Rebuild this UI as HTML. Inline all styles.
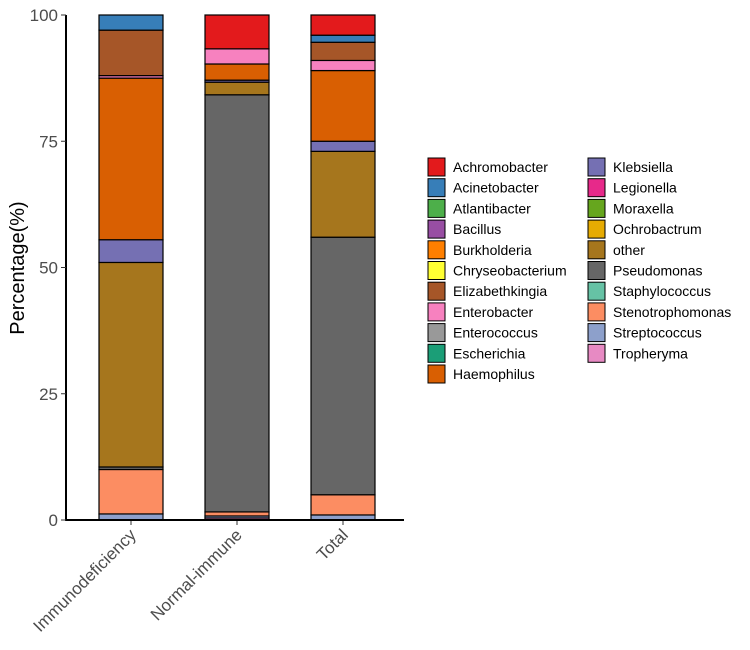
<!DOCTYPE html>
<html><head><meta charset="utf-8"><style>
body{margin:0;background:#fff;font-family:"Liberation Sans",sans-serif}
</style></head><body>
<svg id="chart" width="750" height="645" xmlns="http://www.w3.org/2000/svg"></svg>
<script>
const genera=["Achromobacter","Acinetobacter","Atlantibacter","Bacillus","Burkholderia","Chryseobacterium","Elizabethkingia","Enterobacter","Enterococcus","Escherichia","Haemophilus","Klebsiella","Legionella","Moraxella","Ochrobactrum","other","Pseudomonas","Staphylococcus","Stenotrophomonas","Streptococcus","Tropheryma"];
const colors=["#e31a1c","#377eb8","#4daf4a","#984ea3","#ff7f00","#ffff33","#a65628","#f781bf","#999999","#1b9e77","#d95f02","#7570b3","#e7298a","#66a61e","#e6ab02","#a6761d","#666666","#66c2a5","#fc8d62","#8da0cb","#e78ac3"];
const categories=["Immunodeficiency","Normal-immune","Total"];
const valImmuno=[0,3,0,0,0,0,9,0.5,0,0,32,4.5,0,0,0,40.5,0.5,0,8.8,1.2,0];
const valNormal=[6.7,0,0,0,0,0,0,3,0,0,3.2,0.4,0,0,0,2.5,82.6,0,0.8,0.4,0.4];
const valTotal=[4,1.4,0,0,0,0,3.6,2,0,0,14,2,0,0,0,17,51,0,4,1,0];
const series=[valImmuno,valNormal,valTotal];
const yTicks=[0,25,50,75,100];
const NS="http://www.w3.org/2000/svg";
const svg=document.getElementById("chart");
function el(t,a,p){const e=document.createElementNS(NS,t);for(const k in a)e.setAttribute(k,a[k]);(p||svg).appendChild(e);return e;}
const y0=520,y1=15;
function y(v){return y0-(v/100)*(y0-y1);}
function xc(i){return 131+i*106;}
const bw=64;
categories.forEach((c,i)=>{
  const g=el("g",{});
  
  
  let cum=0;
  for(let k=genera.length-1;k>=0;k--){
    const v=series[i][k]; if(v<=0)continue;
    const r=el("rect",{x:xc(i)-bw/2,y:y(cum+v),width:bw,height:y(cum)-y(cum+v),fill:colors[k],stroke:"#000","stroke-width":1.2},g);
    
    
    cum+=v;
  }
  const t=el("text",{x:0,y:0,"font-size":17,fill:"#4d4d4d","text-anchor":"end",transform:`translate(${xc(i)+6},${536}) rotate(-45)`});
  t.textContent=c;
  
  
  el("line",{x1:xc(i),x2:xc(i),y1:520,y2:525,stroke:"#333","stroke-width":1});
});
el("line",{x1:66,x2:66,y1:15,y2:521,stroke:"#000","stroke-width":2});
el("line",{x1:65,x2:404,y1:520,y2:520,stroke:"#000","stroke-width":2});
yTicks.forEach(v=>{
  el("line",{x1:61,x2:66,y1:y(v),y2:y(v),stroke:"#333"});
  const t=el("text",{x:58,y:y(v)+6,"font-size":17,fill:"#4d4d4d","text-anchor":"end"});
  t.textContent=v;
  
  
});
const yt=el("text",{x:0,y:0,"font-size":20,fill:"#000","text-anchor":"middle",transform:"translate(24,268) rotate(-90)"});
yt.textContent="Percentage(%)";


genera.forEach((g,k)=>{
  const col=k<11?0:1, row=k<11?k:k-11;
  const lx=col?588:428, ly=158+row*20.7;
  const le=el("g",{});
  
  
  el("rect",{x:lx,y:ly,width:17,height:18,fill:colors[k],stroke:"#000","stroke-width":1},le);
  const t=el("text",{x:lx+25,y:ly+14,"font-size":14,fill:"#000"},le);
  t.textContent=g;
});
</script>
</body></html>
